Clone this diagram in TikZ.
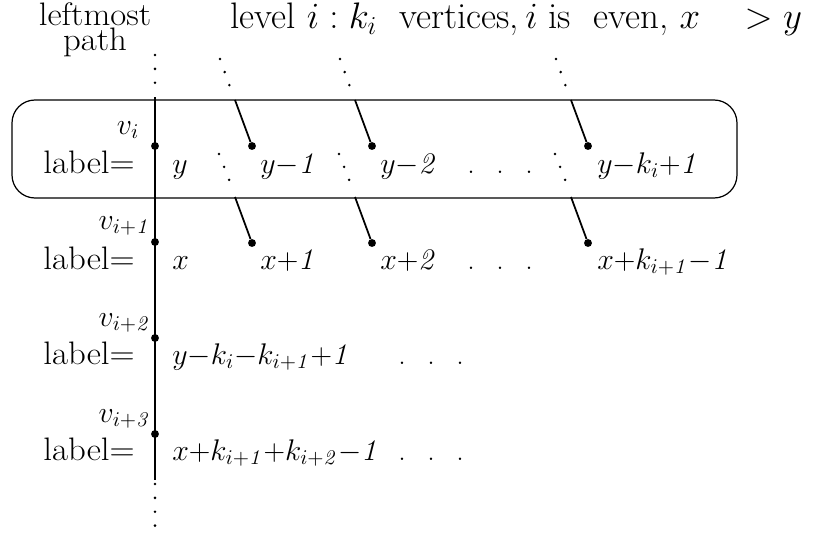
\RequirePackage{fix-cm}
\documentclass[tikz,border=0pt]{standalone}
\usepackage{amsmath}
\usetikzlibrary{positioning}

\tikzset{
  vert/.style={circle,fill,inner sep=0pt,minimum size=4.5pt},
  edge/.style={line width=1pt},
  dotline/.style={line width=1.6pt,line cap=round,dash pattern=on 0pt off 7.9pt},
  txt/.style={font=\fontsize{18.5}{22}\selectfont,inner sep=0pt,anchor=base west},
  mth/.style={font=\fontsize{17}{20}\selectfont,inner sep=0pt,anchor=base west},
}
\newcommand{\wtxt}[1]{\scalebox{1.07}[1]{#1}}
\newcommand{\ddd}{.\hspace{0.72em}.\hspace{0.72em}.}

\begin{document}
\begin{tikzpicture}[x=0.02cm,y=-0.02cm]
	\useasboundingbox (0,0) rectangle (819,534);
	% header
	\node[txt,anchor=base] (hl) at (95,26) {\wtxt{leftmost}};
	\node[txt,anchor=base] (hp) at (95,51) {\wtxt{path}};
	\node[txt,font=\fontsize{21}{24}\selectfont] (hd) at (230,29) {level $i:k_i$\ \ vertices,$\,i$\ is\ \ even,\ $x$\ \ \ \ $>y$};
	% level i box
	\draw[line width=0.7pt,rounded corners=0.46cm] (12,100) rectangle (737,198);
	% leftmost path
	\coordinate (ptop) at (155,97);
	\coordinate (pbot) at (155,480);
	\draw[edge] (ptop) -- (pbot);
	\draw[dotline] (155,55) -- (155,85);
	\draw[dotline] (155,484) -- (155,529);
	\foreach \y [count=\k from 0] in {146,242,338,434}
		\node[vert] (v\k) at (155,\y) {};
	\node[mth,anchor=base] (lv0) at (128,134) {$v_i$};
	\node[mth,anchor=base east] (lv1) at (151,229) {$v_{i+\mathit{1}}$};
	\node[mth,anchor=base east] (lv2) at (151,326) {$v_{i+\mathit{2}}$};
	\node[mth,anchor=base east] (lv3) at (151,422) {$v_{i+\mathit{3}}$};
	\foreach \y [count=\k from 0] in {173,269,364,460}
		\node[txt,anchor=base east] (lab\k) at (135,\y) {\wtxt{label=}};
	% other vertices of levels i and i+1
	\foreach \vx [count=\k] in {252,372,588} {
		\node[vert] (a\k) at (\vx,146) {};
		\node[vert] (b\k) at (\vx,243) {};
		\coordinate (ua\k) at (\vx-17,100);
		\coordinate (ub\k) at (\vx-17,197);
		\draw[edge] (ua\k) -- (a\k);
		\draw[edge] (ub\k) -- (b\k);
		\draw[dotline] (\vx-32,59) -- (\vx-22,87);
		\draw[dotline] (\vx-33,154) -- (\vx-22,182);
	}
	% labels
	\node[mth] (y0) at (172,173) {$y$};
	\node[mth] (y1) at (260,173) {$y{-}\mathit{1}$};
	\node[mth] (y2) at (380,173) {$y{-}\mathit{2}$};
	\node[mth] (yd) at (467,173) {\ddd};
	\node[mth] (yk) at (597,173) {$y{-}k_i{+}\mathit{1}$};
	\node[mth] (x0) at (172,269) {$x$};
	\node[mth] (x1) at (260,269) {$x{+}\mathit{1}$};
	\node[mth] (x2) at (380,269) {$x{+}\mathit{2}$};
	\node[mth] (xd) at (467,269) {\ddd};
	\node[mth] (xk) at (597,269) {$x{+}k_{i+\mathit{1}}{-}\mathit{1}$};
	\node[mth] (z0) at (172,364) {$y{-}k_i{-}k_{i+\mathit{1}}{+}\mathit{1}$};
	\node[mth] (zd) at (398,364) {\ddd};
	\node[mth] (w0) at (172,460) {$x{+}k_{i+\mathit{1}}{+}k_{i+\mathit{2}}{-}\mathit{1}$};
	\node[mth] (wd) at (398,460) {\ddd};
\end{tikzpicture}
\end{document}
